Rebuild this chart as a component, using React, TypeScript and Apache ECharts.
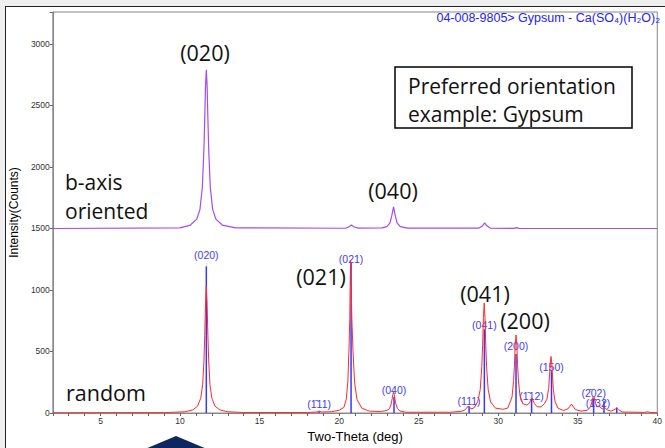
import React, { useEffect, useRef } from 'react';
import * as echarts from 'echarts';

// Random (powder) pattern, red trace: [two-theta, counts]
const randomPattern: [number, number][] = [
  [2.0, 2], [9.0, 3], [10.3, 10], [10.8, 25], [11.1, 55], [11.3, 120], [11.42, 230], [11.5, 422], [11.55, 628],
  [11.6, 886], [11.65, 1030], [11.7, 886], [11.75, 628], [11.8, 422], [11.88, 230], [12.0, 120],
  [12.2, 55], [12.5, 25], [13.0, 10], [14.0, 4], [18.0, 4], [18.6, 8], [18.74, 15], [18.9, 8], [19.5, 10],
  [20.0, 22], [20.3, 45], [20.45, 115], [20.55, 258], [20.62, 520], [20.67, 770], [20.7, 1100],
  [20.72, 1240], [20.75, 1080], [20.8, 760], [20.87, 508], [20.97, 250], [21.12, 112], [21.42, 40],
  [21.9, 15], [22.6, 12], [23.0, 20], [23.17, 36], [23.27, 72], [23.32, 106], [23.37, 148],
  [23.42, 170], [23.47, 148], [23.52, 106], [23.57, 72], [23.67, 36], [23.82, 16], [24.2, 6],
  [27.0, 6], [27.7, 14], [27.9, 25], [28.02, 40], [28.12, 57], [28.22, 42], [28.35, 34], [28.5, 44],
  [28.72, 95], [28.87, 190], [28.97, 380], [29.02, 550], [29.07, 775], [29.12, 894], [29.17, 775],
  [29.22, 550], [29.27, 375], [29.37, 190], [29.52, 90], [29.82, 40], [30.3, 30], [30.6, 40],
  [30.87, 130], [30.97, 265], [31.02, 390], [31.07, 550], [31.12, 634], [31.17, 550], [31.22, 392],
  [31.27, 268], [31.37, 140], [31.55, 75], [31.8, 65], [31.97, 80], [32.07, 110], [32.12, 120],
  [32.17, 108], [32.27, 78], [32.45, 50], [32.7, 50], [32.9, 75], [33.07, 115], [33.17, 200],
  [33.22, 290], [33.27, 400], [33.32, 460], [33.37, 400], [33.42, 285], [33.47, 190], [33.57, 95],
  [33.75, 40], [34.1, 20], [34.4, 35], [34.5, 55], [34.6, 73], [34.7, 55], [34.85, 28], [35.2, 15],
  [35.6, 22], [35.8, 50], [35.9, 95], [35.95, 125], [36.0, 138], [36.05, 120], [36.12, 80],
  [36.2, 50], [36.35, 58], [36.45, 40], [36.55, 35], [36.7, 45], [36.85, 25], [37.1, 15],
  [37.35, 30], [37.45, 42], [37.55, 28], [37.8, 8], [39.2, 5], [39.4, 10], [39.6, 4], [40.0, 3],
];

// b-axis oriented pattern, purple trace (offset to 1500)
const orientedPattern: [number, number][] = [
  [2.0, 1500], [10.0, 1505], [10.65, 1528], [11.05, 1576], [11.25, 1655], [11.4, 1835], [11.5, 2145],
  [11.55, 2390], [11.6, 2661], [11.65, 2790], [11.7, 2661], [11.75, 2390], [11.8, 2145], [11.9, 1835],
  [12.05, 1655], [12.25, 1576], [12.65, 1528], [13.5, 1505], [20.4, 1502], [20.6, 1512],
  [20.77, 1528], [20.95, 1512], [21.2, 1503], [22.7, 1505], [23.0, 1515], [23.2, 1545],
  [23.32, 1610], [23.42, 1675], [23.52, 1610], [23.64, 1545], [23.85, 1515], [24.3, 1503],
  [28.8, 1503], [29.0, 1520], [29.15, 1545], [29.3, 1520], [29.5, 1503], [31.0, 1501],
  [31.15, 1507], [31.3, 1501], [40.0, 1500],
];

// Reference card 04-008-9805 sticks
const stickPositions = [11.65, 18.74, 20.75, 23.45, 28.17, 29.13, 31.12, 32.1, 33.35, 36.0, 36.65, 37.45];
const stickHeights = [1220, 15, 1220, 130, 55, 680, 480, 120, 340, 120, 100, 45];
const stickLabels = [
  '(020)', '(1\u030411)', '(021)', '(040)', '(111)', '(041)', '(200)',
  '(1\u030412)', '(150)', '(2\u030402)', '(1\u030432)', '',
];

const xTickLabels = [5, 10, 15, 20, 25, 30, 35, 40];
const yTickLabels = [0, 500, 1000, 1500, 2000, 2500, 3000];

const labelOffsets: Record<number, [number, number]> = {
  2: [0, 4], 4: [0, 2], 5: [0, 3], 7: [0, 5], 8: [0, 3], 9: [0, 2], 10: [-6, 10],
};

const ANNO_FONT = '"Open Sans", "Noto Sans", sans-serif';
const AXIS_FONT = '"Liberation Sans", Arial, sans-serif';

export default function App() {
  const ref = useRef<HTMLDivElement>(null);
  useEffect(() => {
    document.body.style.margin = '0';
    if (!ref.current) return;
    const chart = echarts.init(ref.current, null, { renderer: 'svg' });
    const annoText = (text: string, x: number, y: number, align: string = 'center', size = 21.5) => ({
      type: 'text', x, y, z: 100,
      style: {
        text, fill: '#111', font: `${size}px ${ANNO_FONT}`,
        textAlign: align, textVerticalAlign: 'middle',
      },
    });
    chart.setOption({
      animation: false,
      backgroundColor: 'transparent',
      grid: { left: 45, right: 2, top: 12, bottom: 35, show: true, borderColor: '#888', borderWidth: 1, backgroundColor: 'transparent' },
      xAxis: {
        type: 'value', min: 2, max: 40, interval: 1,
        name: 'Two-Theta (deg)', nameLocation: 'middle', nameGap: 16,
        nameTextStyle: { fontSize: 13, color: '#000', fontFamily: AXIS_FONT },
        axisLine: { show: true, lineStyle: { color: '#888', width: 1 } },
        axisTick: { show: true, length: 3, lineStyle: { color: '#666' } },
        axisLabel: {
          fontSize: 8.5, color: '#333', margin: 3, fontFamily: AXIS_FONT,
          formatter: (v: number) => (xTickLabels.includes(Math.round(v)) && Math.abs(v - Math.round(v)) < 1e-6 ? String(Math.round(v)) : ''),
        },
        splitLine: { show: false },
      },
      yAxis: {
        type: 'value', min: 0, max: 3260, interval: 500,
        name: 'Intensity(Counts)', nameLocation: 'middle', nameGap: 24,
        nameTextStyle: { fontSize: 12, color: '#000', fontFamily: AXIS_FONT },
        axisLine: { show: true, lineStyle: { color: '#888', width: 1 } },
        axisTick: { show: true, length: 3, lineStyle: { color: '#666' } },
        axisLabel: {
          fontSize: 8.5, color: '#333', margin: 3, fontFamily: AXIS_FONT,
          formatter: (v: number) => (yTickLabels.includes(v) ? String(v) : ''),
        },
        splitLine: { show: false },
      },
      series: [
        {
          type: 'bar', barWidth: 1.5, z: 2,
          itemStyle: { color: '#3535ff' },
          label: {
            show: true, position: 'top', distance: 2, color: '#3c3cff', fontSize: 10.5,
            fontFamily: AXIS_FONT,
            formatter: (p: any) => p.name,
          },
          data: stickPositions.map((x, i) => ({
            value: [x, stickHeights[i]], name: stickLabels[i],
            label: labelOffsets[i] ? { offset: labelOffsets[i] } : undefined,
          })),
        },
        {
          type: 'scatter', symbol: 'emptyCircle', symbolSize: 5, z: 3,
          itemStyle: { color: '#fff', borderColor: '#3535ff', borderWidth: 1 },
          data: [[stickPositions[0], stickHeights[0]]],
        },
        {
          type: 'line', showSymbol: false, z: 4,
          lineStyle: { color: '#ff2a2a', width: 1 },
          data: randomPattern,
        },
        {
          type: 'line', showSymbol: false, z: 4,
          lineStyle: { color: '#a24cf5', width: 1.2 },
          data: orientedPattern,
        },
      ],
      graphic: [
        {
          type: 'text', x: 660, y: 18, z: 100,
          style: {
            text: '04-008-9805> Gypsum - Ca(SO\u2084)(H\u2082O)\u2082', fill: '#2222ff',
            font: `12.5px ${AXIS_FONT}`, textAlign: 'right', textVerticalAlign: 'middle',
          },
        },
        {
          type: 'rect', z: 99, shape: { x: 395, y: 67, width: 237, height: 61 },
          style: { fill: '#fff', stroke: '#000', lineWidth: 1.5 },
        },
        annoText('Preferred orientation', 408, 86, 'left', 21),
        annoText('example: Gypsum', 408, 114, 'left', 21),
        annoText('(020)', 205, 52),
        annoText('b-axis', 65, 182, 'left', 21),
        annoText('oriented', 65, 211, 'left', 21),
        annoText('(040)', 393, 190),
        annoText('(021)', 321, 276),
        annoText('(041)', 485, 293),
        annoText('(200)', 525, 320),
        annoText('random', 66, 392, 'left'),
        {
          type: 'polygon', z: 100,
          shape: { points: [[145, 449], [176, 436], [207, 449]] },
          style: { fill: '#0f2660' },
        },
      ],
    });
    return () => chart.dispose();
  }, []);
  return (
    <div style={{ position: 'relative', width: 665, height: 448, overflow: 'hidden', background: '#efefef' }}>
      <div style={{ position: 'absolute', left: 5, top: 6, width: 700, height: 500, background: '#fff', borderLeft: '1.5px solid #222', borderTop: '1.5px solid #222' }} />
      <div ref={ref} style={{ position: 'absolute', left: 0, top: 0, width: 665, height: 448 }} />
    </div>
  );
}
